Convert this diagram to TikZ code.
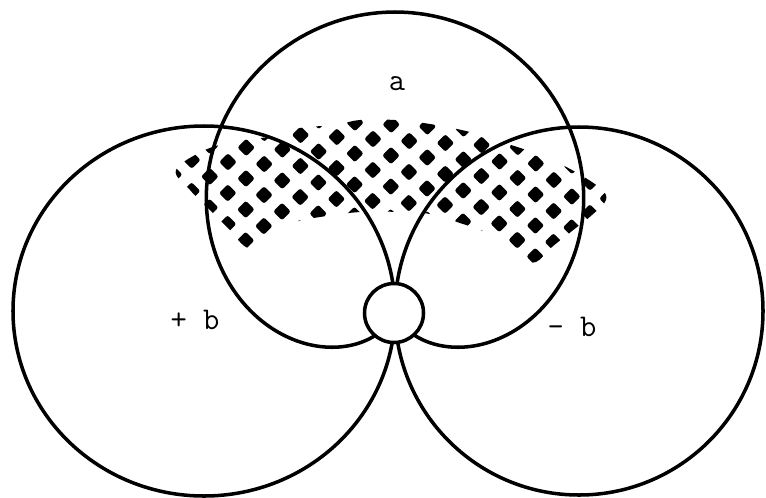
\documentclass[tikz,border=0pt]{standalone}
\usepackage{tikz}
\usetikzlibrary{calc}

\begin{document}
\begin{tikzpicture}[x=0.03cm, y=-0.03cm,
    lobe/.style={draw=black, line width=3pt},
    hub/.style={circle, draw=black, line width=3pt, fill=white,
                minimum size=1.77cm, inner sep=0pt},
    lbl/.style={font=\ttfamily\fontsize{27}{30}\selectfont, inner sep=0pt},
    dot/.style={fill=black, rounded corners=2pt},
]
\useasboundingbox (0,0) rectangle (766,497);

% Shaded band (diamond dots)
\begin{scope}
  \clip plot[smooth cycle, tension=0.6] coordinates {
    (176,170) (205,150) (240,140) (268,137) (300,128) (335,125) (360,120)
    (395,120) (430,124) (470,132) (505,143) (540,155) (572,170) (600,188)
    (606,200) (592,215) (572,231) (552,247) (536,262) (522,258) (505,240)
    (480,230) (463,224) (430,214) (400,212) (360,212) (320,217) (295,222)
    (280,230) (268,240) (248,248) (228,228) (210,210) (190,190)};
  \foreach \i in {-3,...,12} {
    \foreach \j in {-4,...,6} {
      \pgfmathsetmacro\px{228+36.2*\i+18*\j}
      \pgfmathsetmacro\py{162+2*\i+16.5*\j}
      \fill[dot] (\px,\py) +(-8.8,0) -- +(0,-8.8) -- +(8.8,0) -- +(0,8.8) -- cycle;
    }
  }
\end{scope}

% Lobes
\draw[lobe] (204,311) ellipse [x radius=191, y radius=185];
\draw[lobe] (579,311) ellipse [x radius=184, y radius=184];
\draw[lobe] plot[domain=0:360, samples=241, variable=\t]
  ({395+0.975*149*(1+cos(\t))*sin(\t)}, {310-149*(1+cos(\t))*cos(\t)}) -- cycle;

% Centre
\node[hub] (hub) at (394,313) {};

% Labels
\node[lbl] (a) at (397,84) {a};
\node[lbl] (plusb) at (195,320) {+ b};
\node[lbl] (minusb) at (572,327) {- b};

\end{tikzpicture}
\end{document}
